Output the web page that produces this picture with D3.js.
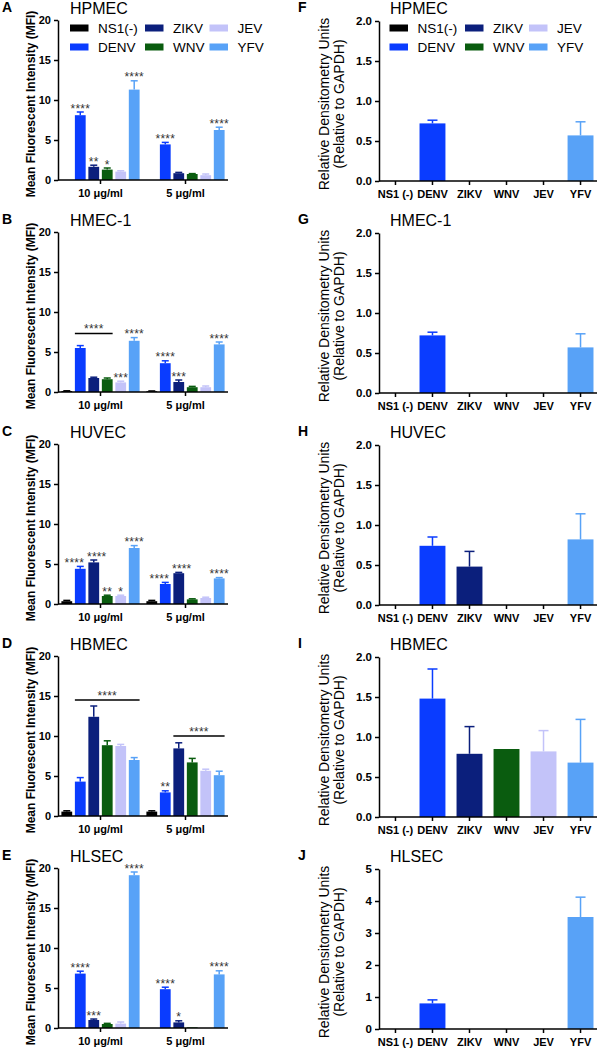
<!DOCTYPE html>
<html>
<head>
<meta charset="utf-8">
<script src="https://cdnjs.cloudflare.com/ajax/libs/d3/7.8.5/d3.min.js"></script>
<style>
  body { margin: 0; background: #fff; }
  svg { display: block; font-family: Arial, "Liberation Sans", Helvetica, sans-serif; }
</style>
</head>
<body>
<svg id="chart" width="601" height="1050"></svg>
<script>
// categories
var series = ['NS1(-)', 'DENV', 'ZIKV', 'WNV', 'JEV', 'YFV'];
var seriesTicks = ['NS1 (-)', 'DENV', 'ZIKV', 'WNV', 'JEV', 'YFV'];
var doses = ['10 μg/ml', '5 μg/ml'];
var cellLines = ['HPMEC', 'HMEC-1', 'HUVEC', 'HBMEC', 'HLSEC'];
var mfiTicks = [0, 5, 10, 15, 20];

// MFI per dose (rows: 10 μg/ml, 5 μg/ml), one value per series
var hpmecMfi = [[0, 8.1, 1.65, 1.3, 1.05, 11.3], [0, 4.45, 0.85, 0.75, 0.6, 6.25]];
var hpmecSd = [[0, 0.4, 0.2, 0.2, 0.1, 1.1], [0, 0.25, 0.1, 0.05, 0.15, 0.35]];
var hpmecStars = [['', '****', '**', '*', '', '****'], ['', '****', '', '', '', '****']];

var hmecMfi = [[0.12, 5.5, 1.75, 1.6, 1.2, 6.4], [0.1, 3.6, 1.25, 0.6, 0.6, 5.95]];
var hmecSd = [[0.03, 0.3, 0.1, 0.15, 0.15, 0.4], [0.03, 0.3, 0.25, 0.1, 0.15, 0.3]];
var hmecStars = [['', '', '', '', '***', '****'], ['', '****', '***', '', '', '****']];

var huvecMfi = [[0.35, 4.4, 5.2, 1.0, 1.0, 7.0], [0.35, 2.5, 3.85, 0.58, 0.75, 3.2]];
var huvecSd = [[0.1, 0.3, 0.3, 0.1, 0.1, 0.3], [0.1, 0.2, 0.1, 0.07, 0.1, 0.1]];
var huvecStars = [['', '****', '****', '**', '*', '****'], ['', '****', '****', '', '', '****']];

var hbmecMfi = [[0.55, 4.3, 12.4, 8.85, 8.75, 7.0], [0.55, 2.95, 8.45, 6.7, 5.65, 5.1]];
var hbmecSd = [[0.1, 0.5, 1.35, 0.55, 0.2, 0.3], [0.1, 0.2, 0.7, 0.5, 0.2, 0.5]];
var hbmecStars = [['', '', '', '', '', ''], ['', '**', '', '', '', '']];

var hlsecMfi = [[0, 6.8, 1.0, 0.5, 0.55, 19.1], [0, 4.85, 0.7, 0.08, 0, 6.7]];
var hlsecSd = [[0, 0.3, 0.12, 0.08, 0.2, 0.4], [0, 0.25, 0.2, 0, 0, 0.45]];
var hlsecStars = [['', '****', '***', '', '', '****'], ['', '****', '*', '', '', '****']];

// bracket comparisons: [cell line, dose, from series, to series, height, label]
var brackets = [
  ['HMEC-1', '10 μg/ml', 'DENV', 'WNV', 7.3, '****'],
  ['HBMEC', '10 μg/ml', 'DENV', 'YFV', 14.5, '****'],
  ['HBMEC', '5 μg/ml', 'ZIKV', 'YFV', 10.0, '****']
];

// relative densitometry (relative to GAPDH)
var hpmecDens = [0, 0.72, 0, 0, 0, 0.57];
var hpmecDensSd = [0, 0.04, 0, 0, 0, 0.17];
var hmecDens = [0, 0.72, 0, 0, 0, 0.57];
var hmecDensSd = [0, 0.04, 0, 0, 0, 0.17];
var huvecDens = [0, 0.74, 0.48, 0, 0, 0.82];
var huvecDensSd = [0, 0.11, 0.19, 0, 0, 0.32];
var hbmecDens = [0, 1.48, 0.79, 0.85, 0.82, 0.68];
var hbmecDensSd = [0, 0.37, 0.34, 0, 0.26, 0.54];
var hlsecDens = [0, 0.8, 0, 0, 0, 3.5];
var hlsecDensSd = [0, 0.11, 0, 0, 0, 0.62];
var densMax = [2, 2, 2, 2, 5];

var colors = ['#000000', '#0a3cff', '#0b1f7c', '#0a5c0f', '#c3c3f9', '#58a2f7'];
var color = d3.scaleOrdinal().domain(series).range(colors);

var mfiData = [
  {mean: hpmecMfi, sd: hpmecSd, stars: hpmecStars},
  {mean: hmecMfi, sd: hmecSd, stars: hmecStars},
  {mean: huvecMfi, sd: huvecSd, stars: huvecStars},
  {mean: hbmecMfi, sd: hbmecSd, stars: hbmecStars},
  {mean: hlsecMfi, sd: hlsecSd, stars: hlsecStars}
];
var densData = [
  {mean: hpmecDens, sd: hpmecDensSd},
  {mean: hmecDens, sd: hmecDensSd},
  {mean: huvecDens, sd: huvecDensSd},
  {mean: hbmecDens, sd: hbmecDensSd},
  {mean: hlsecDens, sd: hlsecDensSd}
];

var svg = d3.select('#chart');
var tops = [20, 232, 444, 656, 868];
var plotH = 160;
var lettersLeft = ['A', 'B', 'C', 'D', 'E'];
var lettersRight = ['F', 'G', 'H', 'I', 'J'];

function styleAxis(g, fontSize) {
  g.selectAll('.domain').attr('stroke', '#000').attr('stroke-width', 1.5);
  g.selectAll('.tick line').attr('stroke', '#000').attr('stroke-width', 1.5);
  g.selectAll('.tick text')
    .attr('fill', '#000')
    .attr('font-size', fontSize)
    .attr('font-weight', 'bold')
    .attr('font-family', 'Arial, "Liberation Sans", sans-serif');
}

function drawLegend(g, xs, top) {
  series.forEach(function(s, i) {
    var sx = xs[Math.floor(i / 2)];
    var cy = top + 8 + (i % 2) * 19;
    g.append('rect')
      .attr('x', sx).attr('y', cy - 3.5)
      .attr('width', 18.5).attr('height', 7)
      .attr('fill', color(s));
    g.append('text')
      .attr('x', sx + 28).attr('y', cy + 4.8)
      .attr('font-size', 13.5)
      .text(s);
  });
}

function drawMfi(i) {
  var top = tops[i];
  var d = mfiData[i];
  var g = svg.append('g');

  var y = d3.scaleLinear().domain([0, 20]).range([top + plotH, top]);
  var x0 = d3.scaleBand().domain(doses).range([58, 228]).paddingInner(0.08).paddingOuter(0.04);
  var x1 = d3.scaleBand().domain(series).range([0, x0.bandwidth()]).paddingInner(0.2);

  // bars, error bars and asterisks for each dose group
  doses.forEach(function(dose, di) {
    var grp = g.append('g').attr('transform', 'translate(' + x0(dose) + ',0)');
    var rows = series.map(function(s, si) {
      return {s: s, mean: d.mean[di][si], sd: d.sd[di][si], star: d.stars[di][si], shift: 0};
    });
    // nudge neighbouring long asterisk labels apart when they sit at similar heights
    rows.forEach(function(r, k) {
      var n = rows[k + 1];
      if (n && r.star.length > 2 && n.star.length > 2 &&
          Math.abs(y(r.mean + r.sd) - y(n.mean + n.sd)) < 12) {
        r.shift -= 6;
        n.shift += 3;
      }
    });
    var cx = function(r) { return x1(r.s) + x1.bandwidth() / 2; };

    grp.selectAll('rect')
      .data(rows.filter(function(r) { return r.mean > 0; }))
      .enter().append('rect')
      .attr('x', function(r) { return x1(r.s); })
      .attr('y', function(r) { return y(r.mean); })
      .attr('width', x1.bandwidth())
      .attr('height', function(r) { return y(0) - y(r.mean); })
      .attr('fill', function(r) { return color(r.s); });

    var err = rows.filter(function(r) { return r.sd > 0 && r.mean > 0; });
    grp.selectAll('line.err')
      .data(err).enter().append('line')
      .attr('class', 'err')
      .attr('x1', cx).attr('x2', cx)
      .attr('y1', function(r) { return y(r.mean); })
      .attr('y2', function(r) { return y(r.mean + r.sd); })
      .attr('stroke', function(r) { return color(r.s); })
      .attr('stroke-width', 1.5);
    grp.selectAll('line.cap')
      .data(err).enter().append('line')
      .attr('class', 'cap')
      .attr('x1', function(r) { return cx(r) - 3.5; })
      .attr('x2', function(r) { return cx(r) + 3.5; })
      .attr('y1', function(r) { return y(r.mean + r.sd); })
      .attr('y2', function(r) { return y(r.mean + r.sd); })
      .attr('stroke', function(r) { return color(r.s); })
      .attr('stroke-width', 1.5);

    grp.selectAll('text.star')
      .data(rows.filter(function(r) { return r.star; }))
      .enter().append('text')
      .attr('class', 'star')
      .attr('x', function(r) { return cx(r) + r.shift; })
      .attr('y', function(r) { return y(r.mean + r.sd) + 0.5; })
      .attr('text-anchor', 'middle')
      .attr('font-size', 12)
      .attr('letter-spacing', 0.2)
      .attr('fill', '#333')
      .text(function(r) { return r.star; });
  });

  // bracket comparisons
  brackets.filter(function(b) { return b[0] === cellLines[i]; }).forEach(function(b) {
    var xa = x0(b[1]) + x1(b[2]);
    var xb = x0(b[1]) + x1(b[3]) + x1.bandwidth();
    g.append('line')
      .attr('x1', xa).attr('x2', xb)
      .attr('y1', y(b[4])).attr('y2', y(b[4]))
      .attr('stroke', '#000').attr('stroke-width', 1.5);
    g.append('text')
      .attr('x', (xa + xb) / 2).attr('y', y(b[4]) - 0.5)
      .attr('text-anchor', 'middle')
      .attr('font-size', 12)
      .attr('letter-spacing', 0.2)
      .attr('fill', '#333')
      .text(b[5]);
  });

  var yAxis = g.append('g')
    .attr('transform', 'translate(58,0)')
    .call(d3.axisLeft(y).tickValues(mfiTicks).tickSize(4).tickSizeOuter(0).tickPadding(3));
  styleAxis(yAxis, 11);

  var xAxis = g.append('g')
    .attr('transform', 'translate(0,' + (top + plotH) + ')')
    .call(d3.axisBottom(x0).tickSize(4).tickSizeOuter(0).tickPadding(5));
  xAxis.select('.domain').attr('d', 'M58,0H228');
  styleAxis(xAxis, 11);

  g.append('text')
    .attr('transform', 'translate(34.5,' + (top + plotH / 2 + 4) + ') rotate(-90)')
    .attr('text-anchor', 'middle')
    .attr('font-size', 12)
    .attr('font-weight', 'bold')
    .text('Mean Fluorescent Intensity (MFI)');

  g.append('text')
    .attr('x', 70).attr('y', top - 6)
    .attr('font-size', 16)
    .text(cellLines[i]);

  g.append('text')
    .attr('x', 2).attr('y', top - 8)
    .attr('font-size', 14)
    .attr('font-weight', 'bold')
    .text(lettersLeft[i]);

  if (i === 0) drawLegend(g, [70, 145, 209.5], top);
}

function drawDens(i) {
  var top = tops[i] + 1;
  var d = densData[i];
  var g = svg.append('g');

  var y = d3.scaleLinear().domain([0, densMax[i]]).range([top + plotH, top]);
  var x = d3.scaleBand().domain(series).range([379, 597]).paddingInner(0.3).paddingOuter(0.095);
  var rows = series.map(function(s, si) { return {s: s, mean: d.mean[si], sd: d.sd[si]}; });
  var cx = function(r) { return x(r.s) + x.bandwidth() / 2; };

  g.selectAll('rect')
    .data(rows.filter(function(r) { return r.mean > 0; }))
    .enter().append('rect')
    .attr('x', function(r) { return x(r.s); })
    .attr('y', function(r) { return y(r.mean); })
    .attr('width', x.bandwidth())
    .attr('height', function(r) { return y(0) - y(r.mean); })
    .attr('fill', function(r) { return color(r.s); });

  var err = rows.filter(function(r) { return r.sd > 0; });
  g.selectAll('line.err')
    .data(err).enter().append('line')
    .attr('class', 'err')
    .attr('x1', cx).attr('x2', cx)
    .attr('y1', function(r) { return y(r.mean); })
    .attr('y2', function(r) { return y(r.mean + r.sd); })
    .attr('stroke', function(r) { return color(r.s); })
    .attr('stroke-width', 1.5);
  g.selectAll('line.cap')
    .data(err).enter().append('line')
    .attr('class', 'cap')
    .attr('x1', function(r) { return cx(r) - 5; })
    .attr('x2', function(r) { return cx(r) + 5; })
    .attr('y1', function(r) { return y(r.mean + r.sd); })
    .attr('y2', function(r) { return y(r.mean + r.sd); })
    .attr('stroke', function(r) { return color(r.s); })
    .attr('stroke-width', 1.5);

  var ticks = densMax[i] === 2 ? [0, 0.5, 1, 1.5, 2] : [0, 1, 2, 3, 4, 5];
  var yAxis = g.append('g')
    .attr('transform', 'translate(379,0)')
    .call(d3.axisLeft(y).tickValues(ticks).tickSize(4).tickSizeOuter(0).tickPadding(3)
      .tickFormat(d3.format(densMax[i] === 2 ? '.1f' : 'd')));
  styleAxis(yAxis, 11.5);

  var xAxis = g.append('g')
    .attr('transform', 'translate(0,' + (top + plotH) + ')')
    .call(d3.axisBottom(x).tickSize(4).tickSizeOuter(0).tickPadding(5)
      .tickFormat(function(s, k) { return seriesTicks[k]; }));
  xAxis.select('.domain').attr('d', 'M379,0H597');
  styleAxis(xAxis, 11);

  var lab = g.append('text')
    .attr('transform', 'translate(0,' + (top + plotH / 2 + 3) + ') rotate(-90)')
    .attr('text-anchor', 'middle')
    .attr('font-size', 14);
  lab.append('tspan').attr('x', 0).attr('y', 328.5).text('Relative Densitometry Units');
  lab.append('tspan').attr('x', 0).attr('y', 344).text('(Relative to GAPDH)');

  g.append('text')
    .attr('x', 390).attr('y', top - 7)
    .attr('font-size', 16)
    .text(cellLines[i]);

  g.append('text')
    .attr('x', 298).attr('y', top - 9)
    .attr('font-size', 14)
    .attr('font-weight', 'bold')
    .text(lettersRight[i]);

  if (i === 0) drawLegend(g, [389.5, 465, 529], top - 1);
}

cellLines.forEach(function(c, i) {
  drawMfi(i);
  drawDens(i);
});
</script>
</body>
</html>
